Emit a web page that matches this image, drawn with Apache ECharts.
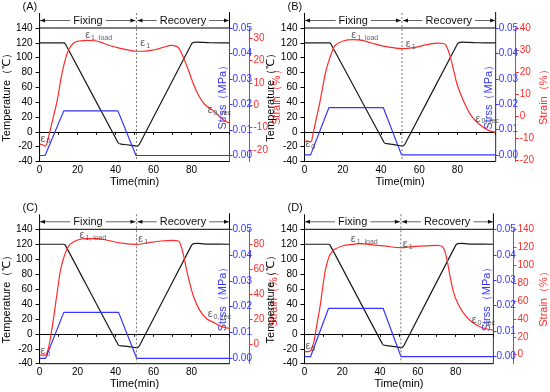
<!DOCTYPE html>
<html><head><meta charset="utf-8">
<script src="https://cdn.jsdelivr.net/npm/echarts@6/dist/echarts.min.js"></script>
<style>html,body{margin:0;padding:0;background:#fff}#c{width:550px;height:392px}</style>
</head><body><div id="c"></div>
<script>
// ---------- data ----------
const panelNames = ['(A)', '(B)', '(C)', '(D)'];
const timeTicks = [0, 10, 20, 30, 40, 50, 60, 70, 80, 90, 100];
const timeLabels = [0, 20, 40, 60, 80];
const stressTicks = [0, 0.01, 0.02, 0.03, 0.04, 0.05];
const strainTicksA = [-20, -10, 0, 10, 20, 30];
const strainTicksB = [-20, -10, 0, 10, 20, 30, 40];
const strainTicksC = [0, 20, 40, 60, 80];
const strainTicksD = [0, 20, 40, 60, 80, 100, 120, 140];
const stressMin = [-0.00235, -0.0026, -0.0021, -0.00275];
const strainMin = [-25.1, -20.4, -16, -10];
const strainMax = [34.6, 40, 91.8, 140];
const phaseSwitch = 51;   // min, end of fixing
const phaseLabels = ['Fixing', 'Recovery'];

const tempA = [[0,120],[12.6,120],[13.6,118.5],[41.5,-15.5],[43,-16.6],[46,-17.4],[50.3,-19],[51.3,-19.5],[52.5,-17],[80,118.5],[81.2,120.6],[83,121],[86,120.5],[90,120.1],[100,120]];
const tempB = [[0,120],[12.8,120],[13.8,118.5],[41.8,-15],[43.3,-16],[46,-17],[50.3,-18.8],[51.3,-19.3],[52.5,-16.8],[80,118.5],[81.2,120.6],[83,121],[86,120.5],[90,120.1],[100,120]];
const tempC = [[0,120],[12.6,120],[13.6,118.5],[41.5,-15.2],[43,-16.2],[46,-16.8],[50.3,-18.3],[51.3,-18.8],[52.5,-16.3],[80,118.5],[81.2,120.8],[83,121.2],[86,120.6],[90,120.1],[100,120]];
const tempD = [[0,120],[12.6,120],[13.6,118.5],[41.5,-14.6],[43,-15.6],[46,-16.4],[50.3,-18.2],[51.3,-18.7],[52.5,-16.2],[80,118.5],[81.2,120.8],[83,121.2],[86,120.6],[90,120.1],[100,120]];

const stressA = [[0,0],[2.9,0],[12.75,0.0175],[41.25,0.0175],[50.75,0],[100,0]];
const stressB = [[0,0],[3.2,0],[12.75,0.0186],[41.25,0.0186],[50.75,0],[100,0]];
const stressC = [[0,0],[3.2,0],[12.75,0.0178],[41.6,0.0178],[51.1,0],[100,0]];
const stressD = [[0,0],[3.2,0],[12.75,0.019],[41.6,0.019],[51.1,0],[100,0]];

const strainA = [[0,-17.3],[1.5,-17.6],[3,-18.2],[4,-16.5],[5.25,-12.3],[7,-6],[8.6,-0.5],[10,5.5],[11.1,11.3],[12.75,17.9],[14,21.8],[15.25,24.8],[17.75,27.8],[21,28.8],[25,29.1],[29,28.9],[32,28.3],[36,27],[42,25.6],[47,24.7],[51,24.2],[56,24.3],[61,25],[65,25.9],[69.4,26.8],[72,26.4],[73.5,25.4],[75.25,22.3],[77.75,17.2],[80.25,11.3],[83.6,4.6],[86.9,0.5],[91.9,-2.7],[96.1,-6.1],[100,-7.9]];
const strainB = [[0,-11],[2,-11.3],[3.3,-11.5],[4.2,-9],[5.25,-4.7],[6.7,1],[8.25,7.4],[9.7,14],[11.1,20.2],[13.1,26.2],[14.5,29.5],[16.1,32.2],[20.25,34.1],[25.25,34.7],[30,34.4],[35,33.2],[42,31.7],[47,31],[51,30.7],[57,31.1],[64,32.5],[70,33.2],[72.5,33],[74,32.2],[76,27.7],[78,20.9],[80,14.1],[83,7.4],[87,0.6],[91,-3.2],[96,-6.2],[100,-7.2]];
const strainC = [[0,-9.1],[3,-9.1],[4,-7],[5.25,0.8],[6.5,12],[8.25,30.2],[9.7,46],[11.1,59.7],[13,70.4],[14.5,76],[16,79.7],[20,83.2],[25,84.3],[30,84.3],[35,83.2],[42,81],[51,79.7],[57,81],[64,82.4],[70,82.9],[73,82.4],[75,75.7],[77,62.3],[79,49],[81,38.3],[84,27.6],[88,20.1],[92,16.9],[96,13.7],[100,12.3]];
const strainD = [[0,3.4],[3,4.1],[4,8],[5.25,17],[6.5,33],[8.25,54],[9.7,76],[11.1,95],[13,109.5],[14.5,114.5],[16,117.7],[20,121.4],[25,123.2],[30,124],[35,122.9],[42,121.4],[51,119.5],[57,120.6],[64,121.4],[70,122.1],[73,120.6],[75,110],[77,88],[79,69],[81,58],[84,47],[88,37.6],[92,32],[96,29],[100,27.6]];

// annotation anchors [time, temperature-axis value, label]
const notesA = [[0.5,-9,'0'],[24,131,'1, load'],[53,120,'1'],[88.5,29,'0, rec']];
const notesB = [[0.5,-17,'0'],[24.5,131,'1, load'],[53,119,'1'],[89.5,18,'0, rec']];
const notesC = [[0.5,-23,'0'],[21,132,'1, load'],[52,127,'1'],[88.5,26,'0, rec']];
const notesD = [[0.5,-16.5,'0'],[24.5,127,'1, load'],[52,120,'1'],[88.5,19,'0, rec']];

// ---------- layout ----------
const temps = [tempA, tempB, tempC, tempD];
const stresses = [stressA, stressB, stressC, stressD];
const strains = [strainA, strainB, strainC, strainD];
const strainTicks = [strainTicksA, strainTicksB, strainTicksC, strainTicksD];
const notes = [notesA, notesB, notesC, notesD];
const gLeft = [29.5, 304.5, 29.5, 304.5];
const gTop = [28, 28, 229.3, 229.3];
const gH = [133.5, 133.5, 134.4, 134.4];
const gW = 200;
const FONT = 'Arial, "Liberation Sans", sans-serif';
const BLACK = '#1a1a1a', RED = '#ff2b2b', BLUE = '#3535ff';

const grid = [], xAxis = [], yAxis = [], series = [];
for (let i = 0; i < 4; i++) {
  grid.push({left: gLeft[i], top: gTop[i], width: gW, height: gH[i], show: true,
    borderColor: '#000', borderWidth: 1, backgroundColor: 'transparent'});
  xAxis.push({type: 'value', gridIndex: i, min: 0, max: 100,
    axisLine: {lineStyle: {color: '#000', width: 1}},
    axisTick: {inside: false, length: 3, customValues: timeTicks, lineStyle: {color: '#000'}},
    axisLabel: {customValues: timeLabels, fontSize: 10, color: '#000', margin: 4, fontFamily: FONT},
    splitLine: {show: false},
    name: 'Time(min)', nameLocation: 'middle', nameGap: 13,
    nameTextStyle: {fontSize: 11, color: '#000', fontFamily: FONT}});
  yAxis.push({type: 'value', gridIndex: i, min: -40, max: 140, interval: 20, position: 'left',
    axisLine: {show: true, lineStyle: {color: '#000', width: 1}},
    axisTick: {show: true, inside: false, length: 4, lineStyle: {color: '#000'}},
    axisLabel: {fontSize: 10, color: '#000', margin: 7, fontFamily: FONT},
    splitLine: {show: false},
    name: 'Temperature（℃）', nameLocation: 'middle', nameGap: 17,
    nameTextStyle: {fontSize: 11, color: '#000', fontFamily: FONT}});
  yAxis.push({type: 'value', gridIndex: i, min: stressMin[i], max: 0.05, position: 'right',
    axisLine: {show: true, lineStyle: {color: BLUE, width: 1}},
    axisTick: {show: true, inside: false, length: 3, customValues: stressTicks, lineStyle: {color: BLUE}},
    axisLabel: {customValues: stressTicks, formatter: v => v.toFixed(2), fontSize: 10, color: BLUE, margin: 3, fontFamily: FONT},
    splitLine: {show: false},
    name: 'Strss（MPa）', nameLocation: 'middle', nameGap: -12,
    nameTextStyle: {fontSize: 11, color: BLUE, fontFamily: FONT}});
  yAxis.push({type: 'value', gridIndex: i, min: strainMin[i], max: strainMax[i], position: 'right', offset: 20,
    axisLine: {show: true, lineStyle: {color: RED, width: 1}},
    axisTick: {show: true, inside: false, length: 3, customValues: strainTicks[i], lineStyle: {color: RED}},
    axisLabel: {customValues: strainTicks[i], fontSize: 10, color: RED, margin: 4, fontFamily: FONT},
    splitLine: {show: false},
    name: 'Strain（%）', nameLocation: 'middle', nameGap: 13,
    nameTextStyle: {fontSize: 11, color: RED, fontFamily: FONT}});

  series.push({type: 'line', xAxisIndex: i, yAxisIndex: 3 * i, data: temps[i], showSymbol: false,
    smooth: 0.15, lineStyle: {color: BLACK, width: 1.2}, z: 3});
  series.push({type: 'line', xAxisIndex: i, yAxisIndex: 3 * i + 1, data: stresses[i], showSymbol: false,
    lineStyle: {color: BLUE, width: 1.2}, z: 4});
  series.push({type: 'line', xAxisIndex: i, yAxisIndex: 3 * i + 2, data: strains[i], showSymbol: false,
    smooth: 0.4, lineStyle: {color: RED, width: 1.2}, z: 5});
  series.push({type: 'scatter', xAxisIndex: i, yAxisIndex: 3 * i, symbolSize: 0, silent: true,
    data: notes[i].map(n => ({value: [n[0], n[1]], sub: n[2]})), z: 6,
    label: {show: true, position: 'right', distance: 0,
      formatter: p => '{e|ε}{s|' + p.data.sub + '}',
      rich: {e: {fontSize: 11, color: '#333', fontFamily: FONT},
             s: {fontSize: 7, color: '#333', fontFamily: FONT, padding: [6, 0, 0, 1]}}}});
}

const chart = echarts.init(document.getElementById('c'), null, {renderer: 'canvas'});
chart.setOption({animation: false, backgroundColor: '#fff', grid, xAxis, yAxis, series});

// ---------- header (Fixing / Recovery) and panel titles ----------
const graphic = [];
for (let i = 0; i < 4; i++) {
  const f = {xAxisIndex: i, yAxisIndex: 3 * i};
  const p0 = chart.convertToPixel(f, [0, 140]);
  const p1 = chart.convertToPixel(f, [phaseSwitch, 140]);
  const p2 = chart.convertToPixel(f, [100, 140]);
  const pb = chart.convertToPixel(f, [phaseSwitch, -40]);
  const top = p0[1], hy = top - 7.5;
  const ln = (x1, y1, x2, y2, st) => graphic.push({type: 'line', shape: {x1, y1, x2, y2}, style: Object.assign({stroke: '#000', lineWidth: 1}, st || {}), z: 10});
  const arrow = (x, dir) => graphic.push({type: 'polygon', shape: {points: [[x, hy], [x - 5 * dir, hy - 2], [x - 5 * dir, hy + 2]]}, style: {fill: '#111'}, z: 11});
  ln(p0[0], top - 15, p0[0], top);
  ln(p2[0], top - 16, p2[0], top);
  ln(p1[0], top - 15, p1[0], pb[1], {stroke: '#777', lineDash: [2, 2]});
  ln(p0[0], hy, p1[0] - 1, hy, {stroke: '#666'});
  ln(p1[0] + 1, hy, p2[0], hy, {stroke: '#666'});
  arrow(p0[0] + 0.5, -1); arrow(p1[0] - 1, 1); arrow(p1[0] + 1, -1); arrow(p2[0] - 0.5, 1);
  graphic.push({type: 'text', x: (p0[0] + p1[0]) / 2, y: hy, z: 12,
    style: {text: phaseLabels[0], fontSize: 11, fontFamily: FONT, fill: '#111', align: 'center', verticalAlign: 'middle',
      backgroundColor: '#fff', padding: [0, 3]}});
  graphic.push({type: 'text', x: (p1[0] + p2[0]) / 2, y: hy, z: 12,
    style: {text: phaseLabels[1], fontSize: 11, fontFamily: FONT, fill: '#111', align: 'center', verticalAlign: 'middle',
      backgroundColor: '#fff', padding: [0, 3]}});
  graphic.push({type: 'text', x: p0[0] - 17, y: top - 21, z: 12,
    style: {text: panelNames[i], fontSize: 11, fontFamily: FONT, fill: '#111', align: 'left', verticalAlign: 'middle'}});
}
chart.setOption({graphic});
</script></body></html>
